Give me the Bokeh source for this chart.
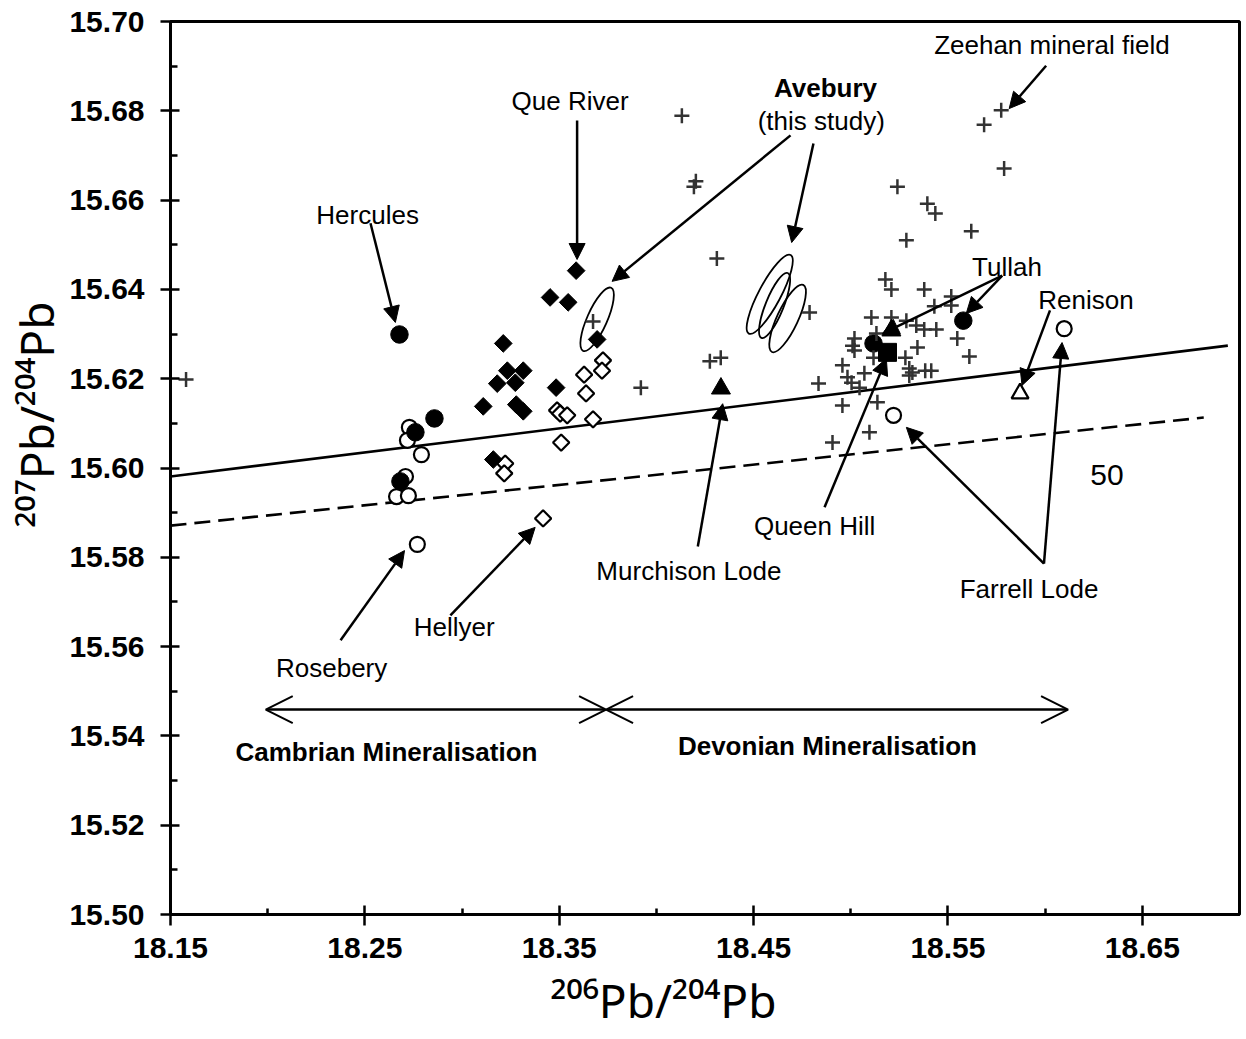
import math
from bokeh.plotting import figure
from bokeh.models import (ColumnDataSource, FixedTicker, PrintfTickFormatter,
                          Arrow, NormalHead, OpenHead, Title)
from bokeh.core.properties import value
from bokeh.embed import file_html
from bokeh.resources import INLINE

FONT = "Liberation Sans"
TITLE_FONT = "Noto Sans"

# ---------------- data ----------------
# other Tasmanian galena analyses (crosses, mostly Zeehan mineral field)
plus_x = [18.158, 18.4131, 18.4203, 18.4193, 18.4311, 18.3674, 18.4788, 18.3920, 18.4275, 18.4331, 18.4834,
          18.5774, 18.5686, 18.5789, 18.5240, 18.5394, 18.5435, 18.5620, 18.5286,
          18.5178, 18.5209, 18.5378, 18.5517, 18.5430, 18.5517, 18.5106, 18.5209, 18.5286, 18.5337, 18.5378,
          18.5440, 18.5548, 18.5610,
          18.5019, 18.5009, 18.5132, 18.5019, 18.5117, 18.5281, 18.5343, 18.4957, 18.5070, 18.4983, 18.5004,
          18.5045,
          18.5137, 18.4957, 18.5301, 18.5301, 18.5317, 18.5383, 18.5414, 18.5096, 18.4906]
plus_y = [15.6198, 15.6789, 15.6642, 15.6630, 15.6469, 15.6328, 15.6348, 15.6180, 15.6239, 15.6247, 15.6189,
          15.6801, 15.6769, 15.6671, 15.6630, 15.6592, 15.6570, 15.6530, 15.6510,
          15.6422, 15.6400, 15.6400, 15.6384, 15.6362, 15.6364, 15.6337, 15.6337, 15.6330, 15.6319, 15.6310,
          15.6310, 15.6290, 15.6250,
          15.6290, 15.6274, 15.6301, 15.6263, 15.6247, 15.6247, 15.6270, 15.6230, 15.6212, 15.6203, 15.6191,
          15.6180,
          15.6147, 15.6140, 15.6223, 15.6207, 15.6214, 15.6218, 15.6218, 15.6080, 15.6057]

# Que River (filled diamonds)
fd_x = [18.3587, 18.3453, 18.3546, 18.3695, 18.3212, 18.3233, 18.3315, 18.3181, 18.3274, 18.3109,
        18.3279, 18.3315, 18.3484, 18.3161]
fd_y = [15.6442, 15.6382, 15.6371, 15.6288, 15.6279, 15.6218, 15.6218, 15.6189, 15.6191, 15.6138,
        15.6142, 15.6127, 15.6180, 15.6019]

# Hellyer (open diamonds)
od_x = [18.3725, 18.3720, 18.3628, 18.3638, 18.3489, 18.3505, 18.3541, 18.3674, 18.3510, 18.3222,
        18.3217, 18.3417]
od_y = [15.6241, 15.6218, 15.6209, 15.6167, 15.6129, 15.6122, 15.6118, 15.6109, 15.6057, 15.6010,
        15.5988, 15.5887]

# Hercules / Rosebery / Tullah (filled circles)
fc_x = [18.2678, 18.2858, 18.2760, 18.2683, 18.5579, 18.5117]
fc_y = [15.6299, 15.6111, 15.6080, 15.5970, 15.6330, 15.6279]

# Rosebery / Farrell Lode (open circles)
oc_x = [18.2729, 18.2719, 18.2791, 18.2709, 18.2663, 18.2724, 18.2770, 18.5220, 18.6098]
oc_y = [15.6091, 15.6062, 15.6030, 15.5981, 15.5936, 15.5938, 15.5829, 15.6118, 15.6312]

# Tullah / Murchison Lode (filled triangles)
ft_x = [18.5209, 18.4332]
ft_y = [15.6308, 15.6178]

# Renison (open triangle)
ot_x = [18.5871]
ot_y = [15.6167]

# Queen Hill (filled square)
fs_x = [18.5189]
fs_y = [15.6259]

# Avebury (this study) error ellipses: centre, axes (px), tilt (deg)
ell_x = [18.3695, 18.4583, 18.4608, 18.4675]
ell_y = [15.6333, 15.6389, 15.6364, 15.6335]
ell_w = [69, 89, 70, 74]
ell_h = [20, 22, 18, 21]
ell_a = [66, 62, 68, 65]

# growth-curve reference lines
solid_x = [18.15, 18.694]
solid_y = [15.5981, 15.6274]
dash_x = [18.15, 18.6816]
dash_y = [15.5871, 15.6113]

# axis ticks
x_ticks = [18.15, 18.25, 18.35, 18.45, 18.55, 18.65]
x_minor = [18.20, 18.30, 18.40, 18.50, 18.60]
y_ticks = [15.50, 15.52, 15.54, 15.56, 15.58, 15.60, 15.62, 15.64, 15.66, 15.68, 15.70]
y_minor = [15.51, 15.53, 15.55, 15.57, 15.59, 15.61, 15.63, 15.65, 15.67, 15.69]

x_title = "\u00b2\u2070\u2076Pb/\u00b2\u2070\u2074Pb"
y_title = "\u00b2\u2070\u2077Pb/\u00b2\u2070\u2074Pb"

# annotation labels
lab_text = ["Hercules", "Que River", "(this study)", "Zeehan mineral field", "Tullah", "Renison",
            "Queen Hill", "Murchison Lode", "Farrell Lode", "Hellyer", "Rosebery"]
lab_x = [18.2514, 18.3556, 18.4848, 18.6035, 18.5804, 18.6210, 18.4814, 18.4167, 18.5917, 18.2960, 18.2329]
lab_y = [15.6566, 15.6821, 15.6778, 15.6948, 15.6451, 15.6377, 15.5871, 15.5770, 15.5728, 15.5645, 15.5553]

bold_text = ["Avebury", "Cambrian Mineralisation", "Devonian Mineralisation"]
bold_x = [18.4870, 18.2611, 18.4880]
bold_y = [15.6850, 15.5365, 15.5378]

num_text = ["50"]
num_x = [18.6318]
num_y = [15.5985]

# annotation arrows (tail -> head)
arr_x0 = [18.2529, 18.3592, 18.4690, 18.4808, 18.6005, 18.5779, 18.5779, 18.6025, 18.5994, 18.5994,
          18.4865, 18.4213, 18.2940, 18.2375]
arr_y0 = [15.6548, 15.6778, 15.6745, 15.6727, 15.6901, 15.6431, 15.6431, 15.6353, 15.5786, 15.5786,
          15.5912, 15.5824, 15.5670, 15.5614]
arr_x1 = [18.2657, 18.3592, 18.3772, 18.4696, 18.5815, 18.5163, 18.5594, 18.5881, 18.5286, 18.6087,
          18.5183, 18.4341, 18.3376, 18.2704]
arr_y1 = [15.6326, 15.6467, 15.6418, 15.6505, 15.6805, 15.6301, 15.6346, 15.6185, 15.6091, 15.6281,
          15.6245, 15.6144, 15.5867, 15.5815]

# mineralisation period arrows
per_x0 = [18.1990, 18.3741]
per_x1 = [18.3741, 18.6118]
per_y = [15.5459, 15.5459]

# ---------------- figure ----------------
X_RANGE = (18.15, 18.70)
Y_RANGE = (15.50, 15.70)
FRAME_W, FRAME_H = 1069, 893
ML, MR, MT, MB = 170, 6, 21, 125

p = figure(width=ML + FRAME_W + MR, height=MT + FRAME_H + MB,
           x_range=X_RANGE, y_range=Y_RANGE,
           output_backend="svg", toolbar_location=None, title=None,
           min_border_left=ML, min_border_right=MR, min_border_top=MT, min_border_bottom=MB)
p.background_fill_color = "white"
p.border_fill_color = "white"
p.grid.visible = False
p.outline_line_color = "black"
p.outline_line_width = 3

for ax in (p.xaxis[0], p.yaxis[0]):
    ax.axis_line_width = 3
    ax.axis_line_color = "black"
    ax.major_tick_line_width = 2.5
    ax.minor_tick_line_width = 2.5
    ax.major_tick_line_color = "black"
    ax.minor_tick_line_color = "black"
    ax.major_label_text_font = FONT
    ax.major_label_text_font_style = "bold"
    ax.major_label_text_font_size = "30px"
    ax.major_label_text_color = "black"
    ax.minor_tick_out = 0
    ax.formatter = PrintfTickFormatter(format="%.2f")

p.xaxis[0].ticker = FixedTicker(ticks=x_ticks, minor_ticks=x_minor)
p.yaxis[0].ticker = FixedTicker(ticks=y_ticks, minor_ticks=y_minor)
p.xaxis[0].major_tick_in = 9
p.xaxis[0].major_tick_out = 11
p.xaxis[0].minor_tick_in = 6
p.xaxis[0].major_label_standoff = 12
p.yaxis[0].major_tick_in = 9
p.yaxis[0].major_tick_out = 10
p.yaxis[0].minor_tick_in = 7
p.yaxis[0].major_label_standoff = 16

# axis titles (with superscript isotope masses)
p.add_layout(Title(text=x_title, align="left", offset=380, standoff=13,
                   text_font=TITLE_FONT, text_font_size="46px", text_font_style="normal",
                   text_color="black"), "below")
p.add_layout(Title(text=y_title, align="left", offset=387, standoff=0,
                   text_font=TITLE_FONT, text_font_size="46px", text_font_style="normal",
                   text_color="black"), "left")

# reference lines
p.line(solid_x, solid_y, line_color="black", line_width=2.6)
p.line(dash_x, dash_y, line_color="black", line_width=2.6, line_dash="16 8")

# ellipses
ell_src = ColumnDataSource(dict(x=ell_x, y=ell_y, w=ell_w, h=ell_h,
                                a=[math.radians(v) for v in ell_a]))
p.ellipse(x="x", y="y", width="w", height="h", angle="a", source=ell_src,
          width_units="screen", height_units="screen",
          fill_color=None, line_color="black", line_width=1.8)

# open markers
p.scatter(oc_x, oc_y, marker="circle", size=15, fill_color="white", line_color="black", line_width=2.2)
p.scatter(od_x, od_y, marker="square", angle=math.pi / 4, size=11.5, fill_color="white",
          line_color="black", line_width=2.2)
p.scatter(ot_x, ot_y, marker="triangle", size=17, fill_color="white", line_color="black", line_width=2.2)

# filled markers
p.scatter(fc_x, fc_y, marker="circle", size=17.5, fill_color="black", line_color="black")
p.scatter(plus_x, plus_y, marker="cross", size=15, line_color="#333333", line_width=2.5)
p.scatter(fd_x, fd_y, marker="square", angle=math.pi / 4, size=12.5, fill_color="black", line_color="black")
p.scatter(fs_x, fs_y, marker="square", size=18, fill_color="black", line_color="black")
p.scatter(ft_x, ft_y, marker="triangle", size=19, fill_color="black", line_color="black")

# annotation text
p.text(lab_x, lab_y, text=lab_text, text_font=value(FONT), text_font_size="26px",
       text_align="center", text_baseline="middle", text_color="black")
p.text(bold_x, bold_y, text=bold_text, text_font=value(FONT), text_font_size="26px",
       text_font_style="bold", text_align="center", text_baseline="middle", text_color="black")
p.text(num_x, num_y, text=num_text, text_font=value(FONT), text_font_size="30px",
       text_align="center", text_baseline="middle", text_color="black")

# arrows
arr_src = ColumnDataSource(dict(x0=arr_x0, y0=arr_y0, x1=arr_x1, y1=arr_y1))
p.add_layout(Arrow(end=NormalHead(size=16, fill_color="black", line_color="black", line_width=1),
                   x_start="x0", y_start="y0", x_end="x1", y_end="y1", source=arr_src,
                   line_color="black", line_width=2.5))
per_src = ColumnDataSource(dict(x0=per_x0, x1=per_x1, y=per_y))
p.add_layout(Arrow(start=OpenHead(size=27, line_color="black", line_width=2),
                   end=OpenHead(size=27, line_color="black", line_width=2),
                   x_start="x0", y_start="y", x_end="x1", y_end="y", source=per_src,
                   line_color="black", line_width=2.5))

open("out.html", "w").write(file_html(p, INLINE))
